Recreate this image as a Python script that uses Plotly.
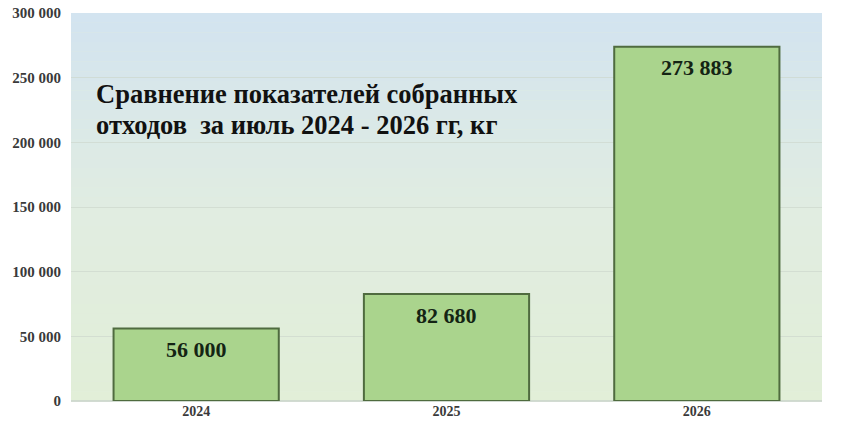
import plotly.graph_objects as go

# Data
years = ['2024', '2025', '2026']
waste_kg = [56000, 82680, 273883]
y_ticks = [0, 50000, 100000, 150000, 200000, 250000, 300000]

title_lines = ['Сравнение показателей собранных', 'отходов  за июль 2024 - 2026 гг, кг']

fig = go.Figure()

fig.add_trace(go.Bar(
    x=years,
    y=waste_kg,
    width=0.66,
    marker=dict(color='#aad48d', line=dict(color='#4f6b3f', width=2)),
    hoverinfo='x+y',
))

# value labels just under the top of each bar (x as category index)
annotations = []
for i, v in enumerate(waste_kg):
    annotations.append(dict(
        x=i, y=v, xref='x', yref='y',
        text=f'{v:,}'.replace(',', ' '),
        showarrow=False, yanchor='middle', yshift=-21,
        font=dict(family='Liberation Serif', size=22, color='#142414', weight='bold'),
    ))

# two-line title inside the plot
for i, line in enumerate(title_lines):
    annotations.append(dict(
        text=line,
        xref='paper', yref='paper', x=0.031, y=0.79 - i * 0.078,
        xanchor='left', yanchor='middle', align='left',
        showarrow=False,
        font=dict(family='Liberation Serif', size=26.5, color='#111111', weight='bold'),
    ))

# vertical gradient background (light blue at top -> light green at bottom)
top = (211, 228, 240)
mid = (225, 237, 226)
bot = (226, 239, 216)
n = 40
shapes = []
for i in range(n):
    t = i / (n - 1)
    if t < 0.5:
        a, b, f = top, mid, t / 0.5
    else:
        a, b, f = mid, bot, (t - 0.5) / 0.5
    c = tuple(int(a[k] + (b[k] - a[k]) * f) for k in range(3))
    shapes.append(dict(
        type='rect', xref='paper', yref='paper',
        x0=0, x1=1, y0=1 - (i + 1) / n, y1=1 - i / n,
        fillcolor='rgb(%d,%d,%d)' % c, line=dict(width=0), layer='below',
    ))

fig.update_layout(
    width=847, height=432,
    margin=dict(l=71, r=25, t=13, b=31),
    paper_bgcolor='white',
    plot_bgcolor='#e0ecdf',
    separators='. ',
    showlegend=False,
    shapes=shapes,
    annotations=annotations,
    bargap=0.34,
    font=dict(family='Liberation Serif', color='#404040'),
)

fig.update_xaxes(
    type='category', range=[-0.5, 2.5],
    showgrid=False, showline=False, ticks='', automargin=False,
    tickfont=dict(family='Liberation Serif', size=14, color='#3a3a3a', weight='bold'),
)
fig.update_yaxes(
    range=[0, 300000],
    tickvals=y_ticks,
    tickformat=',d',
    automargin=False,
    ticklabeloverflow='allow',
    showgrid=True, gridcolor='rgba(205,215,205,0.7)', gridwidth=1,
    zeroline=True, zerolinecolor='rgba(205,215,205,0.9)',
    ticks='', ticklabelstandoff=9,
    tickfont=dict(family='Liberation Serif', size=15, color='#3a3a3a', weight='bold'),
)

# drop the default page margin so the figure sits at the window corner
fig.write_html('out.html', config={'displayModeBar': False},
               post_script="document.body.style.margin='0';")
